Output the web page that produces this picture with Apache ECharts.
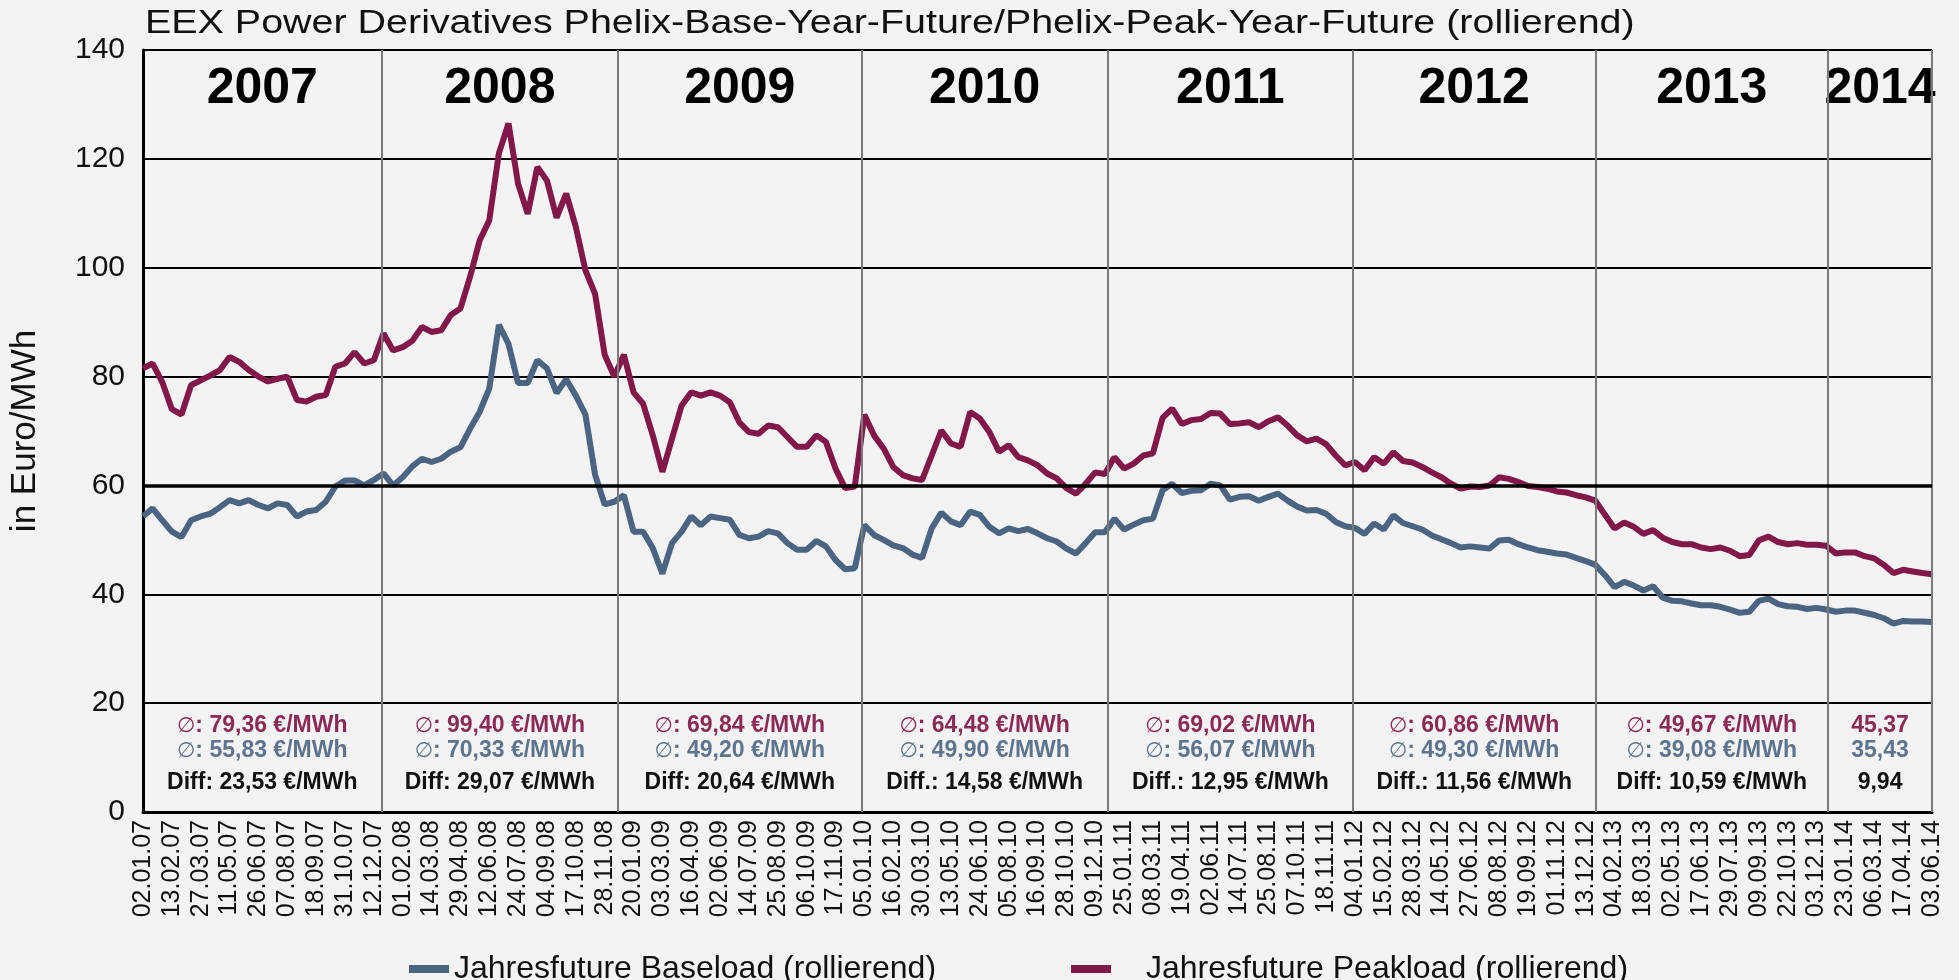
<!DOCTYPE html>
<html><head><meta charset="utf-8">
<script src="https://cdn.jsdelivr.net/npm/echarts@6/dist/echarts.min.js"></script>
<style>html,body{margin:0;padding:0;background:#f3f3f3;}#c{width:1959px;height:980px;}</style>
</head><body><div id="c"></div>
<script>
// samples are taken every STEP trading days, starting at trading day 0 (02.01.07)
const STEP = 10;
const tickLabels = ['02.01.07','13.02.07','27.03.07','11.05.07','26.06.07','07.08.07','18.09.07','31.10.07','12.12.07',
'01.02.08','14.03.08','29.04.08','12.06.08','24.07.08','04.09.08','17.10.08','28.11.08',
'20.01.09','03.03.09','16.04.09','02.06.09','14.07.09','25.08.09','06.10.09','17.11.09',
'05.01.10','16.02.10','30.03.10','13.05.10','24.06.10','05.08.10','16.09.10','28.10.10','09.12.10',
'25.01.11','08.03.11','19.04.11','02.06.11','14.07.11','25.08.11','07.10.11','18.11.11',
'04.01.12','15.02.12','28.03.12','14.05.12','27.06.12','08.08.12','19.09.12','01.11.12','13.12.12',
'04.02.13','18.03.13','02.05.13','17.06.13','29.07.13','09.09.13','22.10.13','03.12.13',
'23.01.14','06.03.14','17.04.14','03.06.14'];
const peak = [81.5,82.4,79,74,73,78.4,79.3,80.2,81.2,83.6,82.7,81.2,80,79.1,79.6,80,75.7,75.4,76.3,76.6,
81.8,82.4,84.5,82.4,83,87.9,84.8,85.4,86.6,89.1,88.2,88.5,91.3,92.5,98.3,105,108.7,121,126.5,115.4,
109.9,118.5,116,109.2,113.6,107.5,99.5,95.2,84,80,84,77.1,75,69.2,62.5,68.6,74.7,77.1,76.5,77.1,
76.5,75.3,71.6,69.8,69.5,71,70.7,68.9,67.1,67.1,69.2,68,63.1,59.5,59.8,73,69.2,66.8,63.4,61.9,
61.3,61,65.5,70.1,67.7,67.1,73.5,72.3,69.8,66.2,67.4,65.2,64.6,63.7,62.2,61.3,59.5,58.5,60.3,62.4,
62.1,65.2,63.1,64,65.5,65.9,72.4,74.1,71.3,72,72.2,73.3,73.2,71.3,71.4,71.6,70.7,71.8,72.5,71,
69.2,68.1,68.6,67.6,65.5,63.7,64.3,62.8,65.2,64,66.1,64.5,64.2,63.4,62.4,61.5,60.3,59.4,59.8,59.7,
60,61.5,61.2,60.6,59.9,59.7,59.4,58.9,58.7,58.2,57.8,57.2,54.6,52.1,53.2,52.4,51.1,51.8,50.4,49.6,
49.2,49.2,48.6,48.3,48.6,48,47,47.2,49.9,50.6,49.6,49.2,49.4,49.1,49.1,48.9,47.5,47.7,47.7,47,
46.6,45.4,43.9,44.5,44.2,43.9,43.7];
const base = [54.3,55.8,53.6,51.5,50.5,53.6,54.3,54.8,56,57.3,56.7,57.3,56.4,55.8,56.7,56.4,54.3,55.2,55.5,57,
59.8,60.9,60.9,60,61,62.2,60,61.5,63.5,64.9,64.3,64.9,66.2,67,70.4,73.5,77.8,89.5,86,78.8,
78.8,83,81.5,77,79.5,76.5,73,62,56.5,57,58.2,51.5,51.5,48.5,43.8,49.4,51.5,54.3,52.7,54.3,
54,53.7,50.9,50.3,50.6,51.6,51.2,49.4,48.2,48.2,49.8,48.8,46.3,44.6,44.8,52.7,50.9,50,49,48.5,
47.3,46.7,52.1,55,53.4,52.7,55.2,54.6,52.4,51.2,52.1,51.6,52,51.2,50.3,49.7,48.4,47.5,49.4,51.4,
51.4,53.9,51.9,52.8,53.6,53.9,59.1,60.3,58.6,59,59.1,60.3,60,57.4,57.9,58,57.2,57.9,58.5,57.2,
56.1,55.4,55.5,54.8,53.3,52.5,52.2,51.1,53,51.9,54.5,53.1,52.5,51.9,50.8,50.1,49.4,48.6,48.8,48.6,
48.4,49.9,50,49.2,48.6,48.1,47.8,47.5,47.3,46.7,46.1,45.4,43.5,41.3,42.3,41.6,40.7,41.5,39.4,38.8,
38.7,38.3,38,38,37.7,37.2,36.6,36.8,38.8,39.2,38.2,37.8,37.7,37.3,37.5,37.2,36.8,37,37,36.6,
36.2,35.6,34.6,35.1,35,35,34.9];
const years = ['2007','2008','2009','2010','2011','2012','2013','2014'];
const yearBounds = [0,248,494,747,1003,1258,1510,1752,1860];
const peakAvgText = ['∅: 79,36 €/MWh','∅: 99,40 €/MWh','∅: 69,84 €/MWh','∅: 64,48 €/MWh','∅: 69,02 €/MWh','∅: 60,86 €/MWh','∅: 49,67 €/MWh','45,37'];
const baseAvgText = ['∅: 55,83 €/MWh','∅: 70,33 €/MWh','∅: 49,20 €/MWh','∅: 49,90 €/MWh','∅: 56,07 €/MWh','∅: 49,30 €/MWh','∅: 39,08 €/MWh','35,43'];
const diffText = ['Diff: 23,53 €/MWh','Diff: 29,07 €/MWh','Diff: 20,64 €/MWh','Diff.: 14,58 €/MWh','Diff.: 12,95 €/MWh','Diff.: 11,56 €/MWh','Diff: 10,59 €/MWh','9,94'];
const seriesNames = ['Jahresfuture Baseload (rollierend)','Jahresfuture Peakload (rollierend)'];
const titleText = 'EEX Power Derivatives Phelix-Base-Year-Future/Phelix-Peak-Year-Future (rollierend)';

const FONT = '"Liberation Sans", Arial, sans-serif';
const BASE_COLOR = '#4a6482';
const PEAK_COLOR = '#82184a';
const PEAK_TXT = '#8c2a56';
const BASE_TXT = '#5e748e';

const basePts = base.map((v, i) => [i * STEP, v]);
const peakPts = peak.map((v, i) => [i * STEP, v]);

const headerAreas = years.map((y, i) => [
  { name: y, xAxis: yearBounds[i], yAxis: 120 },
  { xAxis: yearBounds[i + 1], yAxis: 140 }
]);
const noteRich = {
  ps: { fontFamily: 'DejaVu Sans, sans-serif', fontSize: 21, fontWeight: 'normal', color: PEAK_TXT, lineHeight: 25 },
  p: { fontFamily: FONT, fontSize: 23, fontWeight: 'bold', color: PEAK_TXT, lineHeight: 25 },
  bs: { fontFamily: 'DejaVu Sans, sans-serif', fontSize: 21, fontWeight: 'normal', color: BASE_TXT, lineHeight: 25 },
  b: { fontFamily: FONT, fontSize: 23, fontWeight: 'bold', color: BASE_TXT, lineHeight: 25 },
  d: { fontFamily: FONT, fontSize: 23, fontWeight: 'bold', color: '#111', lineHeight: 38 }
};
function richLine(txt, symStyle, style) {
  if (txt.charAt(0) === '∅') return '{' + symStyle + '|∅}{' + style + '|' + txt.slice(1) + '}';
  return '{' + style + '|' + txt + '}';
}
const noteAreas = years.map((y, i) => [
  {
    name: richLine(peakAvgText[i], 'ps', 'p') + '\n' + richLine(baseAvgText[i], 'bs', 'b') + '\n{d|' + diffText[i] + '}',
    xAxis: yearBounds[i], yAxis: 0,
    label: { show: true, position: 'inside', offset: [0, 0], formatter: '{b}', rich: noteRich }
  },
  { xAxis: yearBounds[i + 1], yAxis: 20 }
]);
const vLines = yearBounds.slice(1).map(b => ({ xAxis: b }));

const legendCommon = {
  top: 948, icon: 'rect', itemWidth: 40, itemHeight: 8,
  textStyle: { fontFamily: FONT, fontSize: 32, color: '#111' }
};

const chart = echarts.init(document.getElementById('c'), null, { renderer: 'canvas' });
chart.setOption({
  backgroundColor: '#f3f3f3',
  animation: false,
  graphic: [{
    type: 'text', x: 145, y: 24, scaleX: 1.195, silent: true,
    style: { text: titleText, font: '33px "Liberation Sans", Arial, sans-serif', fill: '#111', align: 'left', verticalAlign: 'middle' }
  }],
  grid: { left: 142, right: 27, top: 50, bottom: 168 },
  legend: [
    Object.assign({ data: [seriesNames[0]], left: 404 }, legendCommon),
    Object.assign({}, legendCommon, {
      data: [seriesNames[1]], left: 1066,
      textStyle: { fontFamily: FONT, fontSize: 32, color: '#111', padding: [0, 0, 0, 30] }
    })
  ],
  xAxis: {
    type: 'value', min: 0, max: 1860, interval: 30,
    axisLine: { show: true, onZero: false, lineStyle: { color: '#000', width: 3 } },
    axisTick: { show: false },
    splitLine: { show: false },
    axisLabel: {
      rotate: 90, margin: 8, fontFamily: FONT, fontSize: 25, color: '#111',
      showMinLabel: true, showMaxLabel: true,
      formatter: v => tickLabels[Math.round(v / 30)] || ''
    }
  },
  yAxis: {
    type: 'value', min: 0, max: 140, interval: 20,
    name: 'in Euro/MWh', nameLocation: 'middle', nameGap: 100,
    nameTextStyle: { fontFamily: FONT, fontSize: 35, color: '#111' },
    axisLine: { show: true, lineStyle: { color: '#000', width: 3 } },
    axisTick: { show: false },
    splitLine: { show: true, lineStyle: { color: '#000', width: 2.2 } },
    axisLabel: { margin: 18, fontFamily: FONT, fontSize: 30, color: '#111' }
  },
  series: [
    {
      name: 'table', type: 'line', data: [], z: 1, silent: true,
      markLine: {
        silent: true, symbol: 'none', label: { show: false },
        lineStyle: { color: '#7a7a7a', width: 2, type: 'solid' },
        data: vLines.concat([{ yAxis: 60, lineStyle: { color: '#000', width: 3.5 } }])
      },
      markArea: {
        silent: true,
        itemStyle: { color: 'rgba(0,0,0,0)' },
        label: { show: true, position: 'inside', offset: [0, -15], fontFamily: FONT, fontSize: 50, fontWeight: 'bold', color: '#000' },
        data: headerAreas.concat(noteAreas)
      }
    },
    {
      name: seriesNames[0], type: 'line', data: basePts, z: 3, showSymbol: false,
      color: BASE_COLOR, lineStyle: { width: 6, color: BASE_COLOR }
    },
    {
      name: seriesNames[1], type: 'line', data: peakPts, z: 4, showSymbol: false,
      color: PEAK_COLOR, lineStyle: { width: 6, color: PEAK_COLOR }
    }
  ]
});
</script></body></html>
